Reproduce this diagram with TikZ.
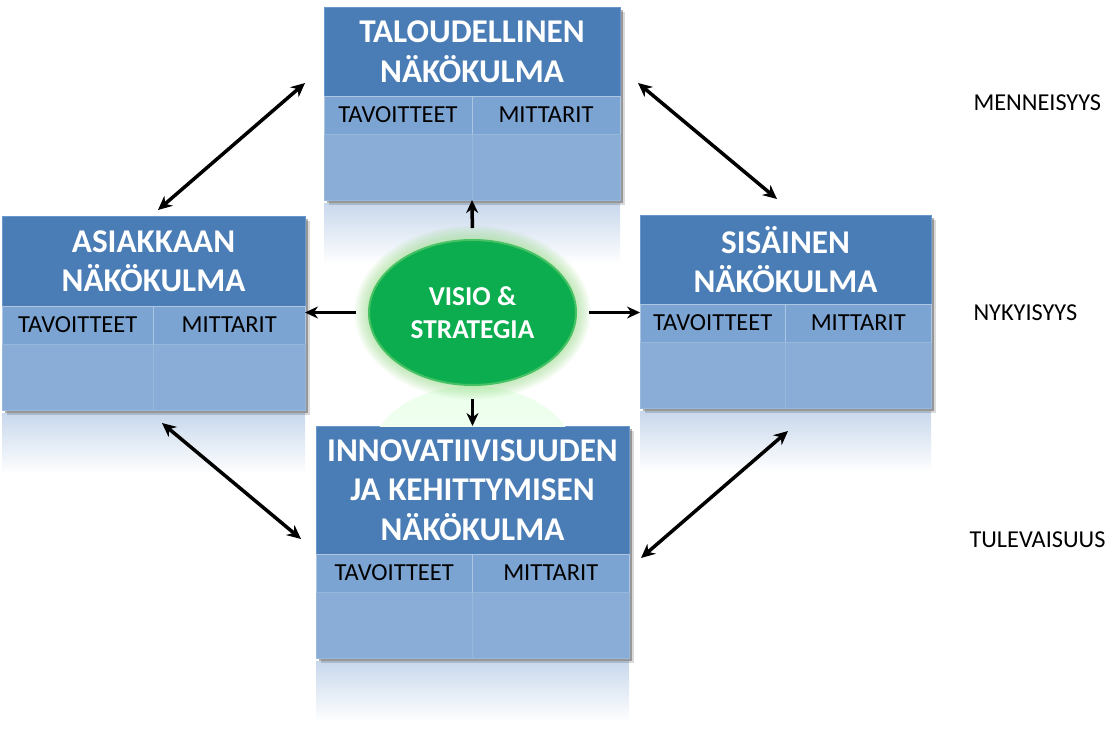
\documentclass[tikz,border=0pt]{standalone}
\usepackage{fontspec}
\setmainfont{Carlito}
\usetikzlibrary{arrows.meta,positioning,calc,shapes.geometric}
\definecolor{otsikko}{HTML}{4A7DB6}
\definecolor{solu}{HTML}{7CA4D2}
\definecolor{tyhja}{HTML}{8AADD7}
\definecolor{reuna}{HTML}{6A98CC}
\definecolor{heijastus}{HTML}{C8D8EC}
\definecolor{vihrea}{HTML}{0CAD4F}
\definecolor{hehku}{HTML}{8ED97C}

\tikzset{
  otsikkobox/.style={draw=reuna, line width=0.8pt, fill=otsikko, text=white,
    font=\bfseries\fontsize{33.2}{39.5}\selectfont, align=center,
    inner sep=0pt, outer sep=0pt, anchor=north west},
  solubox/.style={draw=reuna!55!white, line width=0.8pt, fill=solu,
    font=\fontsize{24.5}{28}\selectfont, inner sep=0pt, outer sep=0pt,
    minimum height=38, anchor=north west},
  tyhjabox/.style={draw=reuna!70!white, line width=0.8pt, fill=tyhja,
    inner sep=0pt, outer sep=0pt, minimum height=66, anchor=north west},
  aika/.style={font=\fontsize{24.3}{28}\selectfont, anchor=west},
  nuoli/.style={line width=3.5pt, -{Stealth[length=13pt,width=12pt]}},
  kaksinuoli/.style={line width=3.5pt,
    {Stealth[length=14pt,width=13pt]}-{Stealth[length=14pt,width=13pt]}}
}

\begin{document}
\begin{tikzpicture}[x=1pt,y=-1pt]
\useasboundingbox[fill=white] (0,0) rectangle (1107,728);

% ---------- the four perspectives
\foreach \nimi/\x/\y/\w/\h/\teksti in {
    talous/324/7/296/89/{TALOUDELLINEN\\NÄKÖKULMA},
    asiakas/2/216/303/90/{ASIAKKAAN\\NÄKÖKULMA},
    sisainen/640/215/291/89/{SISÄINEN\\NÄKÖKULMA},
    innovaatio/316/426/313/128/{INNOVATIIVISUUDEN\\JA KEHITTYMISEN\\NÄKÖKULMA}}{
  \begin{scope}[shift={(\x,\y)}]
    \shade[top color=heijastus, bottom color=white] (0,\h+107) rectangle (\w,\h+168);
    \fill[black, opacity=0.15] (5,5) rectangle (\w+5,\h+109);
    \fill[black, opacity=0.30] (2.5,2.5) rectangle (\w+2.5,\h+106.5);
    \node[otsikkobox, minimum width=\w, minimum height=\h] (\nimi) at (0,0) {\teksti};
    \node[solubox, minimum width=\w/2] (\nimi-tav) at (0,\h) {TAVOITTEET};
    \node[solubox, minimum width=\w/2] (\nimi-mit) at (\w/2,\h) {MITTARIT};
    \node[tyhjabox, minimum width=\w/2] (\nimi-a) at (0,\h+38) {};
    \node[tyhjabox, minimum width=\w/2] (\nimi-b) at (\w/2,\h+38) {};
  \end{scope}}

% ---------- vision and strategy in the middle
\coordinate (keskus) at (472.5,312.5);
\begin{scope}
  \clip (369,386) rectangle (576,426);
  \shade[top color=green!8!white, bottom color=white] (472.5,458) ellipse [x radius=103, y radius=72];
\end{scope}
\foreach \k in {1,...,9}
  \fill[hehku, opacity=0.07] (keskus) ellipse [x radius=103.5+1.6*\k, y radius=72.5+1.6*\k];
\node[ellipse, fill=vihrea, draw=hehku!45!vihrea, line width=2pt, inner sep=0pt,
      minimum width=207, minimum height=145, text=white, align=center,
      font=\bfseries\fontsize{27.3}{33}\selectfont] (visio) at (keskus) {VISIO \&\\STRATEGIA};

% ---------- arrows out of the middle
\draw[nuoli, shorten <=11pt] (visio.north) -- (talous-a.south east);
\draw[nuoli, shorten <=12pt] (visio.west) -- (visio.west -| asiakas-mit.east);
\draw[nuoli, shorten <=12pt] (visio.east) -- (visio.east -| sisainen-tav.west);
\draw[nuoli, shorten <=13pt] (visio.south) -- (innovaatio.north);

% ---------- arrows between the perspectives
\coordinate (as-yla) at (158,210);
\coordinate (ta-vasen) at (305,83);
\coordinate (ta-oikea) at (638,83);
\coordinate (si-yla) at (777,199);
\coordinate (as-ala) at (162,423);
\coordinate (in-vasen) at (301,539);
\coordinate (si-ala) at (788,431);
\coordinate (in-oikea) at (641,558);
\draw[kaksinuoli] (as-yla) -- (ta-vasen);
\draw[kaksinuoli] (ta-oikea) -- (si-yla);
\draw[kaksinuoli] (as-ala) -- (in-vasen);
\draw[kaksinuoli] (si-ala) -- (in-oikea);

% ---------- time axis
\node[aika] (menneisyys) at (970,103) {MENNEISYYS};
\node[aika] (nykyisyys) at (970,313) {NYKYISYYS};
\node[aika] (tulevaisuus) at (966,540) {TULEVAISUUS};
\end{tikzpicture}
\end{document}
